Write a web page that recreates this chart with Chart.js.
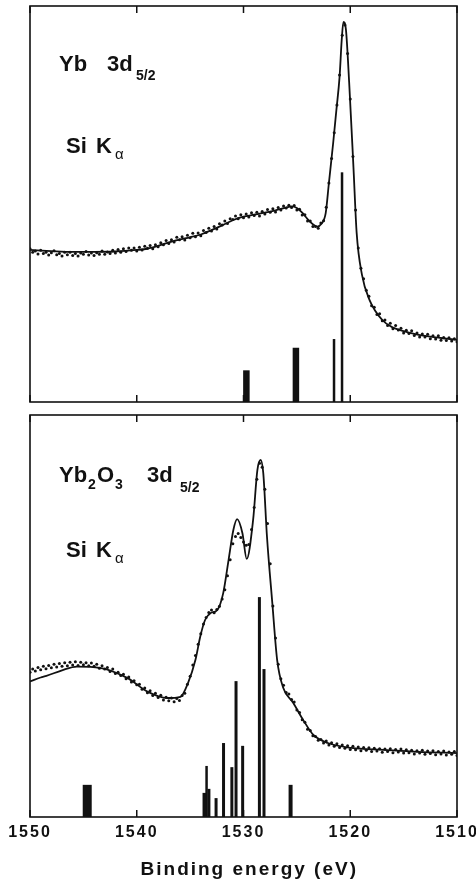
<!DOCTYPE html>
<html><head><meta charset="utf-8">
<script src="https://cdn.jsdelivr.net/npm/chart.js@4"></script>
<style>
html,body{margin:0;padding:0;background:#fff;}
#wrap{position:relative;width:476px;height:888px;overflow:hidden;background:#fff;}
canvas{position:absolute;left:0;}
.lbl{position:absolute;font-family:'Liberation Sans',Arial,sans-serif;font-weight:bold;color:#111;white-space:nowrap;line-height:1;}
.big{font-size:22px;}
.sm{font-size:14px;}
.gr{font-size:15px;font-weight:normal;}
</style></head>
<body><div id="wrap">
<canvas id="c1" width="476" height="410" style="top:0"></canvas>
<canvas id="c2" width="476" height="478" style="top:410px"></canvas>
<div class="lbl big" style="left:59px;top:53px">Yb</div>
<div class="lbl big" style="left:107px;top:53px">3d</div>
<div class="lbl sm" style="left:136px;top:68px">5/2</div>
<div class="lbl big" style="left:66px;top:135px">Si</div>
<div class="lbl big" style="left:96px;top:135px">K</div>
<div class="lbl gr" style="left:115px;top:146px">α</div>

<div class="lbl big" style="left:59px;top:464px">Yb</div>
<div class="lbl sm" style="left:88px;top:477px">2</div>
<div class="lbl big" style="left:97px;top:464px">O</div>
<div class="lbl sm" style="left:115px;top:477px">3</div>
<div class="lbl big" style="left:147px;top:464px">3d</div>
<div class="lbl sm" style="left:180px;top:480px">5/2</div>
<div class="lbl big" style="left:66px;top:539px">Si</div>
<div class="lbl big" style="left:96px;top:539px">K</div>
<div class="lbl gr" style="left:115px;top:550px">α</div>
</div>
<script>
// ---------------- data ----------------
const X_TICKS = [1550, 1540, 1530, 1520, 1510];
const X_TITLE = 'Binding energy (eV)';

// energies of the measured points (both spectra)
const dataE = [1550,1549.75,1549.5,1549.25,1549,1548.75,1548.5,1548.25,1548,1547.75,1547.5,1547.25,1547,1546.75,1546.5,1546.25,1546,1545.75,1545.5,1545.25,1545,1544.75,1544.5,1544.25,1544,1543.75,1543.5,1543.25,1543,1542.75,1542.5,1542.25,1542,1541.75,1541.5,1541.25,1541,1540.75,1540.5,1540.25,1540,1539.75,1539.5,1539.25,1539,1538.75,1538.5,1538.25,1538,1537.75,1537.5,1537.25,1537,1536.75,1536.5,1536.25,1536,1535.75,1535.5,1535.25,1535,1534.75,1534.5,1534.25,1534,1533.75,1533.5,1533.25,1533,1532.75,1532.5,1532.25,1532,1531.75,1531.5,1531.25,1531,1530.75,1530.5,1530.25,1530,1529.75,1529.5,1529.25,1529,1528.75,1528.5,1528.25,1528,1527.75,1527.5,1527.25,1527,1526.75,1526.5,1526.25,1526,1525.75,1525.5,1525.25,1525,1524.75,1524.5,1524.25,1524,1523.75,1523.5,1523.25,1523,1522.75,1522.5,1522.25,1522,1521.75,1521.5,1521.25,1521,1520.75,1520.5,1520.25,1520,1519.75,1519.5,1519.25,1519,1518.75,1518.5,1518.25,1518,1517.75,1517.5,1517.25,1517,1516.75,1516.5,1516.25,1516,1515.75,1515.5,1515.25,1515,1514.75,1514.5,1514.25,1514,1513.75,1513.5,1513.25,1513,1512.75,1512.5,1512.25,1512,1511.75,1511.5,1511.25,1511,1510.75,1510.5,1510.25,1510];

// Yb metal 3d5/2 : fitted curve
const ybFitE = [1550,1548,1546,1544,1542,1540,1539,1538,1537,1536,1535,1534,1533,1532,1531,1530,1529,1528,1527,1526,1525.5,1525,1524.5,1524,1523.5,1523.1,1522.7,1522.3,1522.0,1521.6,1521.3,1521.0,1520.8,1520.64,1520.4,1520.1,1519.7,1519.4,1518.9,1518.2,1517.0,1516,1515,1514,1513,1512,1511,1510];
const ybFitI = [38.4,38.1,37.9,37.9,38.0,38.4,38.7,39.4,40.3,41.0,41.6,42.3,43.4,44.6,45.9,46.8,47.3,47.8,48.4,49.1,49.4,49.0,47.8,46.2,44.9,44.3,45.0,47.7,55.3,65.4,73.7,82.1,91.4,96.0,93.9,80.6,59.3,42.7,32.1,25.8,20.7,18.8,17.9,17.2,16.7,16.3,16.0,15.7];
// Yb metal 3d5/2 : measured points
const ybDataI = [38.7,37.8,38.1,37.4,38.3,37.5,37.8,37.1,37.7,38.2,37.2,37.5,36.9,37.8,37.2,37.8,37.0,37.5,36.9,37.6,37.3,38.0,37.1,37.6,37.0,37.7,37.3,38.1,37.3,37.9,37.5,38.3,37.6,38.5,37.8,38.7,38.0,38.9,38.3,38.9,38.1,39.1,38.4,39.3,38.8,39.5,38.7,39.7,39.2,40.2,39.7,40.8,40.0,41.0,40.4,41.6,41.0,41.7,40.9,42.1,41.5,42.6,41.7,42.7,42.0,43.3,42.8,43.9,43.2,44.3,43.7,45.0,44.7,45.7,45.1,46.3,46.1,47.0,46.3,47.3,46.5,47.5,46.7,47.8,47.1,47.9,47.0,48.1,47.5,48.6,47.9,48.8,48.0,49.1,48.5,49.5,49.0,49.7,49.1,49.6,48.5,48.7,47.2,47.3,45.7,45.7,44.3,44.3,43.9,45.2,45.8,49.2,55.3,61.5,68.0,75.0,82.6,92.6,95.2,88.0,76.5,62.0,48.5,38.9,33.8,31.1,28.2,26.7,24.3,23.9,22.1,22.3,20.5,20.7,19.3,19.9,18.5,19.3,18.2,18.6,17.4,18.1,17.3,18.0,16.8,17.4,16.4,17.2,16.4,17.1,16.0,16.7,15.9,16.7,15.6,16.3,15.5,16.2,15.4,16.0,15.2];
// Yb metal : calculated multiplet sticks
const ybStickE = [1529.73, 1525.09, 1521.52, 1520.77];
const ybStickI = [8.0, 13.7, 15.9, 58.0];

// Yb2O3 3d5/2 : fitted curve
const oxFitE = [1550,1549,1548.46,1547,1545.6,1543.45,1540.9,1539.0,1537.15,1535.9,1535.2,1534.5,1534.05,1533.6,1533.1,1532.45,1531.9,1531.4,1530.95,1530.6,1530.1,1529.7,1529.1,1528.7,1528.4,1528.15,1527.8,1527.3,1526.85,1526.3,1525.35,1524.4,1523.45,1522.1,1519.9,1516.9,1513.7,1510];
const oxFitI = [33.7,34.7,35.1,36.5,37.4,37.1,34.6,31.2,29.6,29.9,33.3,39.1,44.9,49.0,50.7,51.5,55.7,63.9,71.4,74.1,70.6,64.2,73.9,86.3,88.8,85.6,69.7,53.2,39.1,32.3,28.4,24.1,20.4,18.4,17.2,16.7,16.2,15.9];
// Yb2O3 3d5/2 : measured points
const oxDataI = [36.0,36.8,36.3,37.2,36.6,37.5,36.9,37.7,37.1,38.0,37.3,38.2,37.5,38.4,37.6,38.5,37.8,38.6,37.7,38.5,37.9,38.4,37.6,38.3,37.5,38.0,37.0,37.6,36.8,37.2,36.2,36.8,35.7,36.0,35.2,35.5,34.4,34.8,33.6,33.9,32.9,33.0,31.8,32.1,30.9,31.4,30.2,30.8,29.7,30.3,29.1,29.8,28.9,29.6,28.7,29.5,29.0,30.2,30.8,33.0,35.0,37.8,40.2,43.0,45.6,48.0,49.6,50.9,51.5,50.8,51.6,52.4,54.2,56.5,60.0,64.0,68.0,69.8,70.5,69.5,68.4,67.6,67.8,71.5,77.0,84.0,88.0,87.0,81.5,73.0,63.0,52.5,44.5,38.0,34.4,32.8,31.0,30.6,29.2,28.6,26.6,26.0,24.2,23.6,21.8,21.5,20.2,20.0,19.1,19.3,18.4,18.9,17.9,18.5,17.6,18.2,17.3,17.9,17.1,17.7,16.8,17.6,16.7,17.4,16.5,17.3,16.6,17.2,16.3,17.1,16.4,17.0,16.1,16.9,16.3,17.0,16.0,16.8,16.2,16.9,15.9,16.7,16.0,16.6,15.7,16.5,15.9,16.6,15.6,16.4,15.8,16.5,15.5,16.3,15.7,16.4,15.4,16.2,15.6,16.3,15.3];
// Yb2O3 : calculated multiplet sticks
const oxStickE = [1544.64, 1533.65, 1533.46, 1533.24, 1532.57, 1531.87, 1531.09, 1530.70, 1530.08, 1528.51, 1528.08, 1525.59];
const oxStickI = [8.0, 6.0, 12.7, 7.0, 4.7, 18.4, 12.4, 33.8, 17.7, 54.7, 36.8, 8.0];

// ---------------- styles ----------------
const INK = '#111';
const FONT = "'Liberation Sans', Arial, Helvetica, sans-serif";
const YB_STICK_PX = [6.5, 6.5, 2.5, 2.5];
const OX_STICK_PX = [9, 4, 2.5, 3, 3, 3, 3, 3, 3, 3, 3, 4];

const pts = (E, I) => E.map((e, i) => ({x: e, y: I[i]}));

function buildDatasets(fitE, fitI, dataI, stickE, stickI, stickPx) {
  const ds = [];
  stickE.forEach((e, i) => {
    ds.push({
      data: [{x: e, y: 0}, {x: e, y: stickI[i]}],
      borderColor: INK, borderWidth: stickPx[i], borderCapStyle: 'butt',
      pointRadius: 0, showLine: true, tension: 0, fill: false
    });
  });
  ds.push({
    data: pts(dataE, dataI), showLine: false,
    pointRadius: 1.5, pointBackgroundColor: INK, pointBorderWidth: 0, borderColor: INK
  });
  ds.push({
    data: pts(fitE, fitI), showLine: true, borderColor: INK, borderWidth: 1.8,
    pointRadius: 0, cubicInterpolationMode: 'monotone', fill: false
  });
  return ds;
}

const framePlugin = {
  id: 'frame',
  afterDatasetsDraw(chart) {
    const {ctx, chartArea: a, scales: {x}} = chart;
    ctx.save();
    ctx.strokeStyle = INK;
    ctx.lineWidth = 1.6;
    ctx.strokeRect(a.left, a.top, a.right - a.left, a.bottom - a.top);
    ctx.lineWidth = 1.5;
    X_TICKS.forEach(v => {
      const px = x.getPixelForValue(v);
      ctx.beginPath();
      ctx.moveTo(px, a.top); ctx.lineTo(px, a.top + 7);
      ctx.moveTo(px, a.bottom); ctx.lineTo(px, a.bottom - 7);
      ctx.stroke();
    });
    ctx.restore();
  }
};
const spacingPlugin = {
  id: 'spacing',
  beforeDraw(chart) { chart.ctx.letterSpacing = '2px'; }
};

const commonY = {display: false, min: 0, max: 100};

new Chart(document.getElementById('c1'), {
  type: 'line',
  data: {datasets: buildDatasets(ybFitE, ybFitI, ybDataI, ybStickE, ybStickI, YB_STICK_PX)},
  options: {
    responsive: false, animation: false, devicePixelRatio: 1,
    layout: {padding: {left: 30, right: 19, top: 6, bottom: 8}},
    plugins: {legend: {display: false}, tooltip: {enabled: false}},
    scales: {
      x: {type: 'linear', reverse: true, min: 1510, max: 1550, display: false},
      y: commonY
    }
  },
  plugins: [framePlugin]
});

new Chart(document.getElementById('c2'), {
  type: 'line',
  data: {datasets: buildDatasets(oxFitE, oxFitI, oxDataI, oxStickE, oxStickI, OX_STICK_PX)},
  options: {
    responsive: false, animation: false, devicePixelRatio: 1,
    layout: {padding: {left: 30, right: 19, top: 5, bottom: 0}},
    plugins: {legend: {display: false}, tooltip: {enabled: false}},
    scales: {
      x: {
        type: 'linear', reverse: true, min: 1510, max: 1550,
        afterBuildTicks: ax => { ax.ticks = X_TICKS.map(v => ({value: v})); },
        afterFit: ax => { ax.height = 71; ax.paddingLeft = 0; ax.paddingRight = 0; },
        grid: {display: false, drawTicks: false}, border: {display: false},
        ticks: {
          color: INK, padding: 6, maxRotation: 0, autoSkip: false,
          font: {family: FONT, weight: 'bold', size: 16},
          callback: v => String(v)
        },
        title: {
          display: true, text: '\u2002' + X_TITLE, color: INK,
          font: {family: FONT, weight: 'bold', size: 19},
          padding: {top: 0, bottom: 7}
        }
      },
      y: commonY
    }
  },
  plugins: [framePlugin, spacingPlugin]
});
</script>
</body></html>
